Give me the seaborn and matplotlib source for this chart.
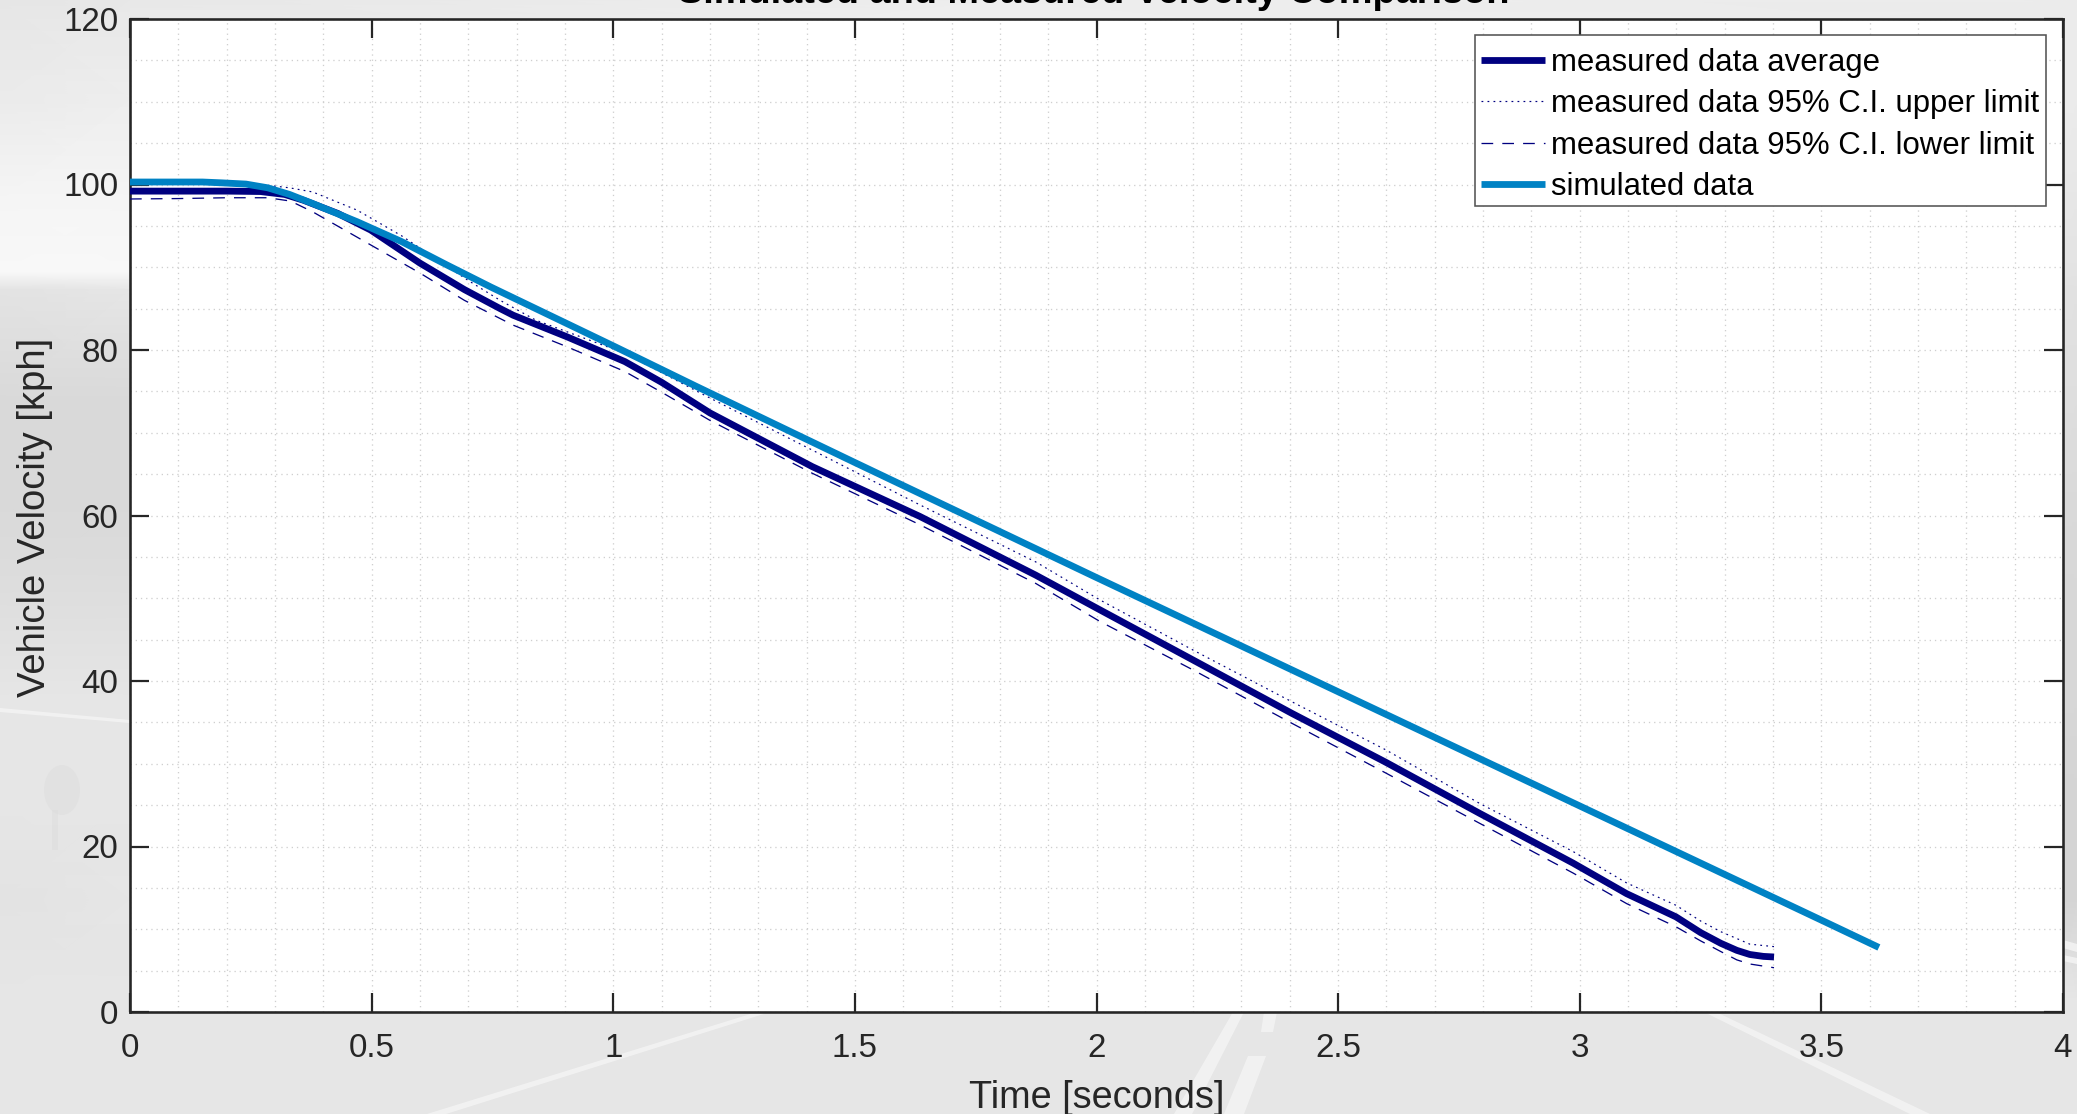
import numpy as np
import pandas as pd
import seaborn as sns
import matplotlib
matplotlib.use("Agg")
import matplotlib.pyplot as plt
from matplotlib.ticker import MultipleLocator, FixedLocator, FixedFormatter
from matplotlib.patches import Polygon, Rectangle, Ellipse

# ---------- data ----------
avg_t = [0, 0.1, 0.2, 0.27, 0.32, 0.359, 0.43, 0.498, 0.6, 0.692, 0.766, 0.793, 0.904, 1.024, 1.1, 1.2, 1.412,
         1.634, 1.874, 2.007, 2.201, 2.404, 2.598, 2.793, 2.986, 3.097, 3.199, 3.25, 3.292, 3.325, 3.352, 3.38, 3.402]
avg_v = [99.2, 99.2, 99.2, 99.15, 98.8, 98.1, 96.5, 94.5, 90.5, 87.3, 85.0, 84.2, 81.6, 78.6, 76.1, 72.4, 65.9,
         59.9, 52.8, 48.6, 42.5, 36.1, 30.2, 24.0, 18.0, 14.3, 11.5, 9.6, 8.3, 7.45, 6.95, 6.72, 6.65]

up_t = [0, 0.1, 0.2, 0.285, 0.33, 0.378, 0.47, 0.562, 0.70, 0.766, 0.84, 1.024, 1.2, 1.412, 1.634, 1.874,
        2.007, 2.201, 2.404, 2.598, 2.793, 2.986, 3.097, 3.199, 3.25, 3.292, 3.352, 3.402]
up_v = [100.1, 100.1, 100.1, 99.9, 99.6, 99.1, 96.9, 93.8, 88.4, 86.0, 83.6, 79.6, 74.2, 67.9, 61.3, 54.4,
        49.8, 43.7, 37.5, 31.7, 25.2, 19.4, 15.6, 12.9, 11.0, 9.7, 8.2, 7.9]

lo_t = [0, 0.1, 0.2, 0.285, 0.332, 0.378, 0.498, 0.6, 0.692, 0.766, 0.793, 0.904, 1.024, 1.1, 1.2, 1.412,
        1.634, 1.874, 2.007, 2.201, 2.404, 2.598, 2.793, 2.986, 3.097, 3.199, 3.25, 3.292, 3.325, 3.352, 3.402]
lo_v = [98.25, 98.3, 98.4, 98.4, 98.0, 96.7, 92.7, 89.3, 86.0, 83.8, 83.0, 80.4, 77.4, 74.9, 71.5, 65.1,
        58.9, 51.8, 47.2, 41.3, 34.9, 28.9, 22.8, 16.8, 13.1, 10.3, 8.6, 7.3, 6.3, 5.8, 5.35]

sim_t = [0, 0.1, 0.15, 0.19, 0.24, 0.285, 0.33, 0.378, 0.47, 0.562, 0.655, 0.747, 1.0, 1.172, 1.5, 2.0, 2.214, 2.5, 3.0, 3.5, 3.619]
sim_v = [100.3, 100.3, 100.3, 100.2, 100.05, 99.6, 98.8, 97.7, 95.5, 93.1, 90.3, 87.6, 80.5, 75.6, 66.4, 52.5, 46.6, 38.7, 24.9, 11.1, 7.8]

x_ticks = [0, 0.5, 1, 1.5, 2, 2.5, 3, 3.5, 4]
x_tick_labels = ["0", "0.5", "1", "1.5", "2", "2.5", "3", "3.5", "4"]
y_ticks = [0, 20, 40, 60, 80, 100, 120]
y_tick_labels = ["0", "20", "40", "60", "80", "100", "120"]

title_text = "Simulated and Measured Velocity Comparison"
x_title = "Time [seconds]"
y_title = "Vehicle Velocity [kph]"
label_avg = "measured data average"
label_up = "measured data 95% C.I. upper limit"
label_lo = "measured data 95% C.I. lower limit"
label_sim = "simulated data"

# ---------- theme ----------
sns.set_theme(style="white")
plt.rcParams["font.family"] = ["Liberation Sans", "DejaVu Sans"]
INK = "#262626"
NAVY = "#000080"
BLUE = "#0082C4"
W, H = 2077, 1114
PX = 72 / 100  # points per pixel at dpi 100

fig = plt.figure(figsize=(W / 100, H / 100), dpi=100)

# ---------- photographic backdrop (grey road scene), in pixel coordinates ----------
bg = fig.add_axes([0, 0, 1, 1], zorder=-5)
bg.set_xlim(0, W)
bg.set_ylim(H, 0)
bg.axis("off")
gx = np.array([0, 130, 1000, 2060, 2077])
gy = np.array([0, 100, 200, 272, 290, 400, 500, 600, 700, 800, 900, 1000, 1114])
left = [.90, .92, .96, .97, .89, .85, .85, .87, .90, .90, .89, .90, .90]
mid1 = [.91, .93, .96, .97, .90, .85, .85, .87, .90, .90, .90, .90, .90]
mid2 = [.93, .93, .93, .93, .90, .88, .88, .88, .88, .88, .90, .90, .90]
right = [.92, .92, .90, .89, .88, .87, .85, .84, .84, .83, .83, .90, .90]
gz = np.array([left, mid1, mid2, right, right]).T
bg.pcolormesh(gx, gy, gz, cmap="gray", vmin=0, vmax=1, shading="gouraud", rasterized=True)
road_col = "#f3f3f3"
for pts in [
    [(757, 1012), (770, 1012), (446, 1114), (427, 1114)],
    [(1233, 1012), (1244, 1012), (1192, 1114), (1174, 1114)],
    [(1264, 1012), (1277, 1012), (1273, 1032), (1261, 1032)],
    [(1248, 1056), (1266, 1056), (1244, 1114), (1224, 1114)],
    [(1704, 1012), (1716, 1012), (1930, 1114), (1910, 1114)],
    [(0, 708), (130, 720), (130, 723), (0, 712)],
    [(2063, 940), (2077, 944), (2077, 952), (2063, 948)],
    [(2063, 955), (2077, 958), (2077, 964), (2063, 961)],
]:
    bg.add_patch(Polygon(pts, closed=True, facecolor=road_col, edgecolor="none", alpha=.9))
bg.add_patch(Ellipse((62, 790), 36, 50, facecolor="#dcdcdc", edgecolor="none", alpha=.45))
bg.add_patch(Rectangle((52, 810), 6, 40, facecolor="#dcdcdc", edgecolor="none", alpha=.45))

# ---------- axes ----------
L, R, T, B = 130, 2063, 19, 1012
ax = fig.add_axes([L / W, (H - B) / H, (R - L) / W, (B - T) / H], facecolor="white")


def frame(t, v):
    return pd.DataFrame({"t": t, "v": v})


sns.lineplot(data=frame(avg_t, avg_v), x="t", y="v", ax=ax, color=NAVY, lw=6.8 * PX,
             label=label_avg, errorbar=None, solid_capstyle="butt", solid_joinstyle="round", zorder=3)
sns.lineplot(data=frame(up_t, up_v), x="t", y="v", ax=ax, color=NAVY, lw=1.2 * PX,
             label=label_up, errorbar=None, linestyle=(0, (1.5, 3.5)), zorder=3)
sns.lineplot(data=frame(lo_t, lo_v), x="t", y="v", ax=ax, color=NAVY, lw=1.3 * PX,
             label=label_lo, errorbar=None, linestyle=(0, (9, 7)), zorder=3)
sns.lineplot(data=frame(sim_t, sim_v), x="t", y="v", ax=ax, color=BLUE, lw=6.8 * PX,
             label=label_sim, errorbar=None, solid_capstyle="butt", solid_joinstyle="round", zorder=4)

ax.set_xlim(0, 4)
ax.set_ylim(0, 120)
ax.xaxis.set_major_locator(FixedLocator(x_ticks))
ax.xaxis.set_major_formatter(FixedFormatter(x_tick_labels))
ax.yaxis.set_major_locator(FixedLocator(y_ticks))
ax.yaxis.set_major_formatter(FixedFormatter(y_tick_labels))
ax.xaxis.set_minor_locator(MultipleLocator(0.1))
ax.yaxis.set_minor_locator(MultipleLocator(5))

ax.set_axisbelow(True)
ax.grid(True, which="both", color="#cfcfcf", lw=1.3 * PX, linestyle=(0, (1, 3)))
ax.tick_params(which="major", direction="in", length=19 * PX, width=2.2 * PX, color=INK,
               top=True, right=True, bottom=True, left=True, labelcolor=INK, labelsize=23.9)
ax.tick_params(axis="x", which="major", pad=15)
ax.tick_params(axis="y", which="major", pad=8.5)
ax.tick_params(which="minor", length=0)
for s in ax.spines.values():
    s.set_visible(True)
    s.set_color(INK)
    s.set_linewidth(2.6 * PX)

ax.set_xlabel("")
ax.set_ylabel("")
fig.text(1097 / W, 1 - 1098 / H, x_title, ha="center", va="center", color=INK, fontsize=27.3)
fig.text(35 / W, 1 - 517 / H, y_title, ha="center", va="center", rotation=90, color=INK, fontsize=27.5)
fig.text(1094 / W, 1 - 3 / H, title_text, ha="center", va="baseline", color="black",
         fontsize=27.3, fontweight="bold")

# ---------- legend: box and entries placed separately so its padding matches ----------
box = Rectangle((1474.5 / W, 1 - 205.5 / H), 571.5 / W, 171 / H, transform=fig.transFigure,
                facecolor="white", edgecolor="#555555", lw=1.6 * PX, zorder=9, clip_on=False)
ax.add_patch(box)
handles, labels = ax.get_legend_handles_labels()
leg = ax.legend(handles, labels, loc="upper left", bbox_to_anchor=(1481 / W, 1 - 48 / H),
                bbox_transform=fig.transFigure, borderaxespad=0, fontsize=22.4,
                handlelength=2.06, handletextpad=0.2, labelspacing=0.365, borderpad=0,
                frameon=False, labelcolor="black")
leg.set_zorder(10)

fig.savefig("out.png", dpi=100)
